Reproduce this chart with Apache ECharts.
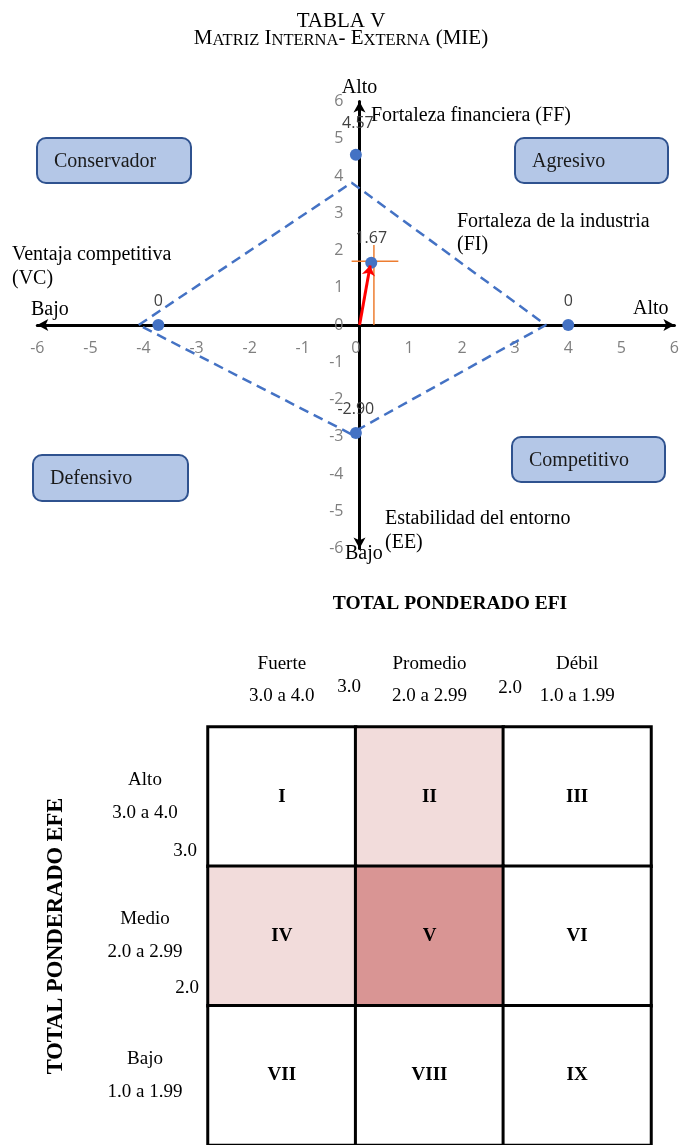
<!DOCTYPE html>
<html>
<head>
<meta charset="utf-8">
<script src="https://cdn.jsdelivr.net/npm/echarts@6/dist/echarts.min.js"></script>
<style>
html,body{margin:0;padding:0;background:#fff;}
#main{width:682px;height:1145px;}
</style>
</head>
<body>
<div id="main"></div>
<script>
// ---------- DATA: position map (MIE / PEYEA) ----------
const AXIS_TICKS_MIN = -6;
const AXIS_TICKS_MAX = 6;
const POINT_X = [0, -3.72, 4.0, 0, 0.29];
const POINT_Y = [4.57, 0, 0, -2.90, 1.67];
const POINT_LABELS = ['4.57', '0', '0', '-2.90', '1.67'];
const DIAMOND_X = [-4.09, -0.08, 3.58, -0.1, -4.09];
const DIAMOND_Y = [0, 3.82, 0, -2.92, 0];
const CROSS_V_X = [0.34, 0.34];
const CROSS_V_Y = [0, 2.15];
const CROSS_H_X = [-0.08, 0.8];
const CROSS_H_Y = [1.71, 1.71];
const ARROW_FROM = [0.07, 0];
const ARROW_TO = [0.27, 1.6];

// ---------- DATA: internal-external matrix ----------
const EFI_CATS = ['Fuerte\n3.0 a 4.0', 'Promedio\n2.0 a 2.99', 'Débil\n1.0 a 1.99'];
const EFE_CATS = ['Alto\n3.0 a 4.0', 'Medio\n2.0 a 2.99', 'Bajo\n1.0 a 1.99'];
const EFI_BOUNDS = ['3.0', '2.0'];
const EFE_BOUNDS = ['3.0', '2.0'];
const CELL_NAMES = [['I', 'II', 'III'], ['IV', 'V', 'VI'], ['VII', 'VIII', 'IX']];
const CELL_LEVEL = [[0, 1, 0], [1, 2, 0], [0, 0, 0]];

// ---------- layout ----------
const SERIF = '"Liberation Serif", "Times New Roman", serif';
const SANS = '"Open Sans", "Noto Sans", sans-serif';
const G0 = { left: 37.3, right: 0.3, top: 101.5, height: 447 };
const G0_W = 682 - G0.left - G0.right;
const X_AXIS_SHIFT = -(G0.height / 2);     // put axis + labels at y = 0
const Y_AXIS_SHIFT = -(G0_W / 2);          // put axis + labels at x = 0
const labelOffsets = [[2, -7], [0, 0], [0, 0], [0, 0], [0, 0]];

const pointData = POINT_X.map((x, i) => ({
  value: [x, POINT_Y[i]],
  label: { formatter: POINT_LABELS[i], offset: labelOffsets[i] }
}));
const diamondData = DIAMOND_X.map((x, i) => [x, DIAMOND_Y[i]]);
const crossV = CROSS_V_X.map((x, i) => [x, CROSS_V_Y[i]]);
const crossH = CROSS_H_X.map((x, i) => [x, CROSS_H_Y[i]]);

const heatData = [];
CELL_LEVEL.forEach((row, r) => row.forEach((lv, c) => {
  heatData.push({ value: [c, r, lv], name: CELL_NAMES[r][c] });
}));

function txt(text, x, y, opt) {
  opt = opt || {};
  return {
    type: 'text', x: x, y: y, z: 50,
    style: {
      text: text,
      fill: opt.fill || '#000',
      font: (opt.weight || 'normal') + ' ' + (opt.size || 20) + 'px ' + (opt.family || SERIF),
      align: opt.align || 'left',
      verticalAlign: 'middle'
    }
  };
}
function box(label, x, y, w, h) {
  return [
    { type: 'rect', z: 40, shape: { x: x, y: y, width: w, height: h, r: 9 },
      style: { fill: '#b4c7e7', stroke: '#2f528f', lineWidth: 2 } },
    txt(label, x + 17, y + h / 2 + 1, { fill: '#1a1a1a' })
  ];
}

const graphics = [].concat(
  [
    txt('Alto', 359.5, 88, { align: 'center' }),
    txt('Fortaleza financiera (FF)', 371, 116),
    txt('Fortaleza de la industria', 457, 222),
    txt('(FI)', 457, 245),
    txt('Ventaja competitiva', 12, 255),
    txt('(VC)', 12, 279),
    txt('Bajo', 31, 310),
    txt('Alto', 633, 309),
    txt('Estabilidad del entorno', 385, 519),
    txt('(EE)', 385, 543),
    txt('Bajo', 345, 554)
  ],
  box('Conservador', 37, 138, 154, 45),
  box('Agresivo', 515, 138, 153, 45),
  box('Defensivo', 33, 455, 155, 46),
  box('Competitivo', 512, 437, 153, 45),
  [
    txt('TOTAL PONDERADO EFI', 450, 604, { align: 'center', weight: 'bold', size: 19.5 }),
    txt(EFI_BOUNDS[0], 349, 687, { align: 'center', size: 19 }),
    txt(EFI_BOUNDS[1], 510, 688, { align: 'center', size: 19 }),
    txt(EFE_BOUNDS[0], 197, 851, { align: 'right', size: 19 }),
    txt(EFE_BOUNDS[1], 199, 988, { align: 'right', size: 19 })
  ]
);

const axisLineStyle = { color: '#000', width: 3 };

const option = {
  animation: false,
  backgroundColor: '#fff',
  title: [
    { text: 'TABLA V', left: 'center', top: 6,
      textStyle: { fontFamily: SERIF, fontSize: 21, fontWeight: 'normal', color: '#000' } },
    { text: '{b|M}{s|ATRIZ}{b| I}{s|NTERNA}{b|- E}{s|XTERNA}{b| (MIE)}', left: 'center', top: 22,
      textStyle: {
        fontWeight: 'normal',
        rich: {
          b: { fontFamily: SERIF, fontSize: 21, fontWeight: 'normal', color: '#000', verticalAlign: 'bottom', lineHeight: 22 },
          s: { fontFamily: SERIF, fontSize: 16.5, fontWeight: 'normal', color: '#000', verticalAlign: 'bottom', lineHeight: 22 }
        }
      } }
  ],
  grid: [
    { left: G0.left, right: G0.right, top: G0.top, height: G0.height },
    { left: 208, width: 443, top: 727, height: 423 }
  ],
  xAxis: [
    { type: 'value', gridIndex: 0, min: AXIS_TICKS_MIN, max: AXIS_TICKS_MAX, interval: 1,
      position: 'bottom', offset: X_AXIS_SHIFT,
      axisLine: { onZero: false, lineStyle: axisLineStyle, symbol: ['arrow', 'arrow'], symbolSize: [9, 11] },
      axisTick: { show: false }, splitLine: { show: false },
      axisLabel: { color: '#7f7f7f', fontFamily: SANS, fontSize: 16, margin: 15,
        showMinLabel: true, showMaxLabel: true, hideOverlap: false } },
    { type: 'category', gridIndex: 1, position: 'top', data: EFI_CATS,
      axisLine: { show: false }, axisTick: { show: false }, splitLine: { show: false },
      axisLabel: { interval: 0, color: '#000', fontFamily: SERIF, fontSize: 19, lineHeight: 32,
        margin: 47, verticalAlign: 'middle' } }
  ],
  yAxis: [
    { type: 'value', gridIndex: 0, min: AXIS_TICKS_MIN, max: AXIS_TICKS_MAX, interval: 1,
      position: 'left', offset: Y_AXIS_SHIFT,
      axisLine: { onZero: false, lineStyle: axisLineStyle, symbol: ['arrow', 'arrow'], symbolSize: [9, 11] },
      axisTick: { show: false }, splitLine: { show: false },
      axisLabel: { color: '#7f7f7f', fontFamily: SANS, fontSize: 16, margin: 16,
        showMinLabel: true, showMaxLabel: true, hideOverlap: false } },
    { type: 'category', gridIndex: 1, inverse: true, data: EFE_CATS,
      name: 'TOTAL PONDERADO EFE', nameLocation: 'middle', nameRotate: 90, nameGap: 140,
      nameTextStyle: { fontFamily: SERIF, fontSize: 22.5, fontWeight: 'bold', color: '#000' },
      axisLine: { show: false }, axisTick: { show: false }, splitLine: { show: false },
      axisLabel: { interval: 0, color: '#000', fontFamily: SERIF, fontSize: 19, lineHeight: 33,
        margin: 63, align: 'center' } }
  ],
  visualMap: {
    type: 'piecewise', show: false, seriesIndex: 5, dimension: 2,
    pieces: [
      { value: 0, color: '#ffffff' },
      { value: 1, color: '#f2dcdb' },
      { value: 2, color: '#d99594' }
    ]
  },
  series: [
    { type: 'line', xAxisIndex: 0, yAxisIndex: 0, data: diamondData, symbol: 'none', z: 2,
      lineStyle: { color: '#4472c4', width: 2.5, type: [10, 6] } },
    { type: 'line', xAxisIndex: 0, yAxisIndex: 0, data: crossV, symbol: 'none', z: 3,
      lineStyle: { color: '#ed7d31', width: 1.5 } },
    { type: 'line', xAxisIndex: 0, yAxisIndex: 0, data: crossH, symbol: 'none', z: 3,
      lineStyle: { color: '#ed7d31', width: 1.5 } },
    { type: 'scatter', xAxisIndex: 0, yAxisIndex: 0, data: pointData, symbolSize: 12, z: 4,
      itemStyle: { color: '#4472c4', opacity: 1 },
      label: { show: true, position: 'top', distance: 10, color: '#404040', fontFamily: SANS, fontSize: 16 } },
    { type: 'lines', coordinateSystem: 'cartesian2d', xAxisIndex: 0, yAxisIndex: 0, z: 5,
      symbol: ['none', 'arrow'], symbolSize: 10,
      lineStyle: { color: '#ff0000', width: 3, opacity: 1 },
      data: [{ coords: [ARROW_FROM, ARROW_TO] }] },
    { type: 'heatmap', xAxisIndex: 1, yAxisIndex: 1, data: heatData,
      itemStyle: { borderColor: '#000', borderWidth: 3 },
      emphasis: { disabled: true },
      label: { show: true, formatter: p => p.name, color: '#000', fontFamily: SERIF,
        fontSize: 19, fontWeight: 'bold' } }
  ],
  graphic: graphics
};

const chart = echarts.init(document.getElementById('main'), null, { renderer: 'canvas' });
chart.setOption(option);
</script>
</body>
</html>
